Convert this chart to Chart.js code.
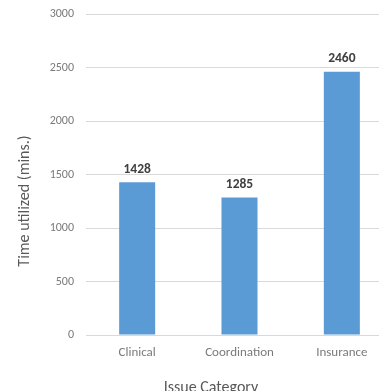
<!DOCTYPE html>
<html>
<head>
<meta charset="utf-8">
<script src="https://cdn.jsdelivr.net/npm/chart.js@4.4.1/dist/chart.umd.min.js"></script>
<style>
  html, body { margin: 0; padding: 0; background: #ffffff; overflow: hidden; width: 379px; height: 391px; }
  canvas { display: block; }
</style>
</head>
<body>
<canvas id="chart" width="393" height="391"></canvas>
<script>
const categories = ['Clinical', 'Coordination', 'Insurance'];
const timeUtilized = [1428, 1285, 2460];
const yTicks = [0, 500, 1000, 1500, 2000, 2500, 3000];
const yAxisTitle = 'Time utilized (mins.)';
const xAxisTitle = 'Issue Category';

const FONT = 'Carlito, Lato, "Liberation Sans", sans-serif';

// Value labels above each bar, positioned from the bar elements
const valueLabels = {
  id: 'valueLabels',
  afterDatasetsDraw(chart) {
    const ctx = chart.ctx;
    const meta = chart.getDatasetMeta(0);
    ctx.save();
    ctx.font = 'bold 13.5px ' + FONT;
    ctx.fillStyle = '#404040';
    ctx.textAlign = 'center';
    ctx.textBaseline = 'middle';
    meta.data.forEach((bar, i) => {
      ctx.fillText(String(chart.data.datasets[0].data[i]), bar.x, bar.y - 13);
    });
    ctx.restore();
  }
};

// Axis titles
const axisTitles = {
  id: 'axisTitles',
  afterDraw(chart) {
    const ctx = chart.ctx;
    ctx.save();
    ctx.font = '16px ' + FONT;
    ctx.fillStyle = '#595959';
    ctx.textAlign = 'center';
    ctx.textBaseline = 'middle';
    ctx.fillText(xAxisTitle, 211, 388);
    ctx.translate(25, 201);
    ctx.rotate(-Math.PI / 2);
    ctx.fillText(yAxisTitle, 0, 0);
    ctx.restore();
  }
};

new Chart(document.getElementById('chart'), {
  type: 'bar',
  data: {
    labels: categories,
    datasets: [{
      data: timeUtilized,
      backgroundColor: '#5b9bd5',
      borderWidth: 0,
      barPercentage: 0.352,
      categoryPercentage: 1
    }]
  },
  options: {
    responsive: false,
    devicePixelRatio: 1,
    animation: false,
    layout: { padding: { top: 14, right: 0, bottom: 0, left: 0 } },
    plugins: {
      legend: { display: false },
      tooltip: { enabled: false }
    },
    scales: {
      x: {
        grid: { display: false, drawTicks: false },
        border: { display: false },
        ticks: {
          color: '#7a7a7a',
          font: { family: FONT, size: 13 },
          padding: 10,
          maxRotation: 0
        },
        afterFit(scale) {
          scale.height = 56;
          scale.paddingLeft = 0;
          scale.paddingRight = 0;
        }
      },
      y: {
        min: 0,
        max: 3000,
        afterBuildTicks(scale) { scale.ticks = yTicks.map(v => ({ value: v })); },
        grid: { color: '#d9d9d9', lineWidth: 1, drawTicks: false },
        border: { display: false },
        ticks: {
          color: '#7a7a7a',
          font: { family: FONT, size: 12 },
          padding: 12,
          callback: (v) => String(v)
        },
        afterFit(scale) {
          scale.width = 86;
          scale.paddingTop = 0;
          scale.paddingBottom = 0;
        }
      }
    }
  },
  plugins: [valueLabels, axisTitles]
});
</script>
</body>
</html>
